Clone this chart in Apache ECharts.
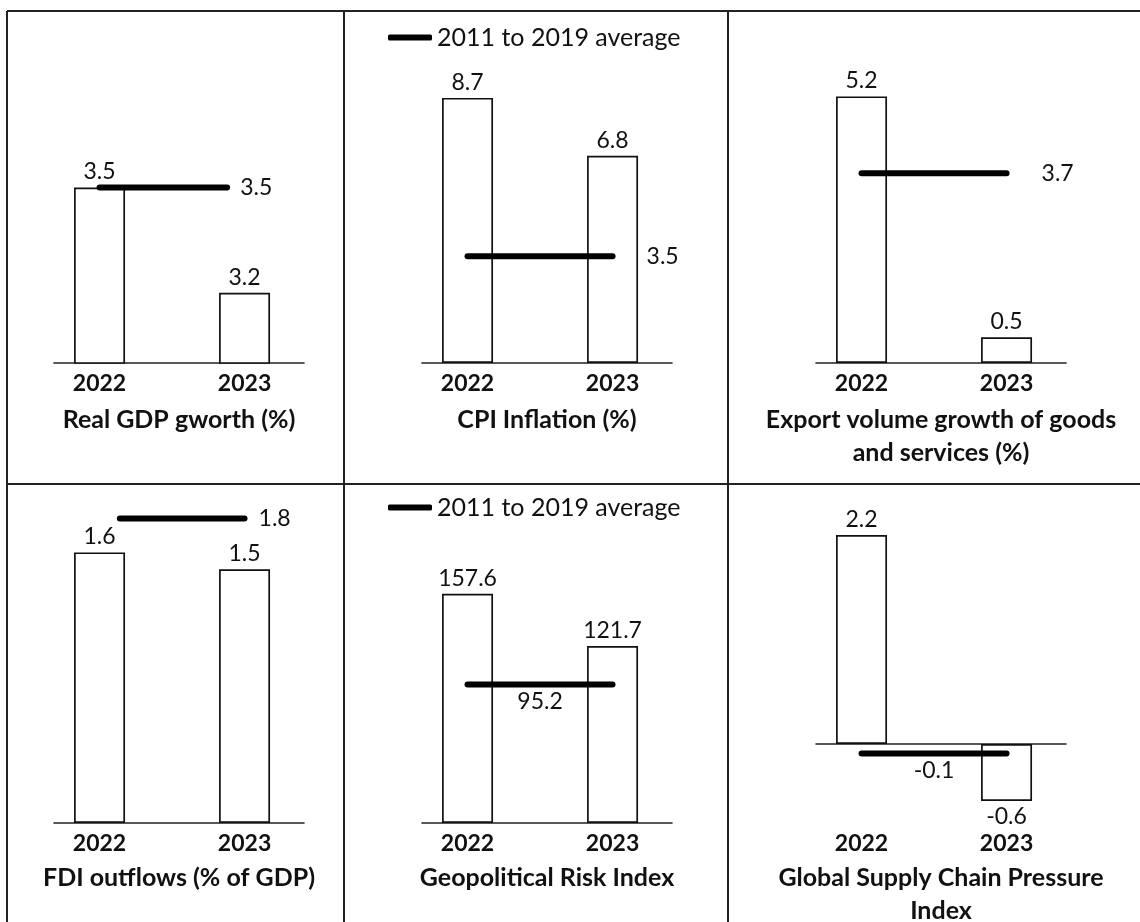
<!DOCTYPE html>
<html>
<head>
<meta charset="utf-8">
<script src="https://cdn.jsdelivr.net/npm/echarts@6/dist/echarts.min.js"></script>
<style>
  html, body { margin: 0; padding: 0; background: #fff; }
  #main { width: 1140px; height: 922px; }
</style>
</head>
<body>
<div id="main"></div>
<script>
// ---- data ----
var years = ['2022', '2023'];
var panelTitles = [
  'Real GDP gworth (%)',
  'CPI Inflation (%)',
  'Export volume growth of goods\nand services (%)',
  'FDI outflows (% of GDP)',
  'Geopolitical Risk Index',
  'Global Supply Chain Pressure\nIndex'
];
var gdpGrowth = [3.5, 3.2];
var cpiInflation = [8.7, 6.8];
var exportGrowth = [5.2, 0.5];
var fdiOutflows = [1.6, 1.5];
var geoRisk = [157.6, 121.7];
var supplyPressure = [2.2, -0.6];
var avg2011to2019 = [3.5, 3.5, 3.7, 1.8, 95.2, -0.1];
var avgName = '2011 to 2019 average';

// ---- layout ----
var panelValues = [gdpGrowth, cpiInflation, exportGrowth, fdiOutflows, geoRisk, supplyPressure];
var colLeft = [54, 422, 816];
var rowTop = [40, 500];
var plotW = 250, plotH = 323;
var xMin = -0.314, xMax = 1.41;
var yRange = [[3, 3.92], [0, 10.6], [0, 6.3], [0, 1.91], [0, 222], [-0.832, 2.568]];
var avgSpan = [[0, 0.88], [0, 1], [0, 1], [0.14, 1], [0, 1], [0, 1]];
var avgLabelPos = ['end', 'end', 'end', 'end', 'insideMiddleBottom', 'insideMiddleBottom'];
var avgLabelGap = [13, 34, 35, 14, 6, 6];
var legendPanels = [1, 4];
var legendTop = [25, 495];
var titleTop = [403, 861];

var font = 'Lato, "Open Sans", sans-serif';
var ink = '#111';

var grids = [], xAxes = [], yAxes = [], series = [], titles = [], legends = [];

panelValues.forEach(function (vals, i) {
  var col = i % 3, row = Math.floor(i / 3);
  grids.push({ left: colLeft[col], top: rowTop[row], width: plotW, height: plotH });

  // axis carrying the year labels (always at the bottom of the plot)
  xAxes.push({
    type: 'value', gridIndex: i, min: xMin, max: xMax, position: 'bottom',
    axisLine: { show: false, onZero: false },
    axisTick: { show: false },
    splitLine: { show: false },
    axisLabel: {
      customValues: [0, 1],
      formatter: function (v) { return years[Math.round(v)]; },
      margin: 9, fontSize: 23, fontWeight: 'bold', color: ink, fontFamily: font
    }
  });
  // axis carrying the baseline (sits on zero when zero is in range)
  xAxes.push({
    type: 'value', gridIndex: i, min: xMin, max: xMax, position: 'bottom',
    axisLine: { show: true, onZero: true, lineStyle: { color: '#222', width: 1.6 } },
    axisTick: { show: false },
    axisLabel: { show: false },
    splitLine: { show: false }
  });
  yAxes.push({
    type: 'value', gridIndex: i, min: yRange[i][0], max: yRange[i][1], show: false
  });

  series.push({
    type: 'bar',
    xAxisIndex: 2 * i, yAxisIndex: i,
    barWidth: 51,
    silent: true,
    itemStyle: { color: '#fff', borderColor: ink, borderWidth: 1.7 },
    label: {
      show: true, position: 'top', distance: 4,
      formatter: function (p) { return String(p.value[1]); },
      fontSize: 23, color: ink, fontFamily: font
    },
    data: vals.map(function (v, k) {
      var d = { value: [k, v] };
      if (v < 0) d.label = { position: 'bottom' };
      return d;
    })
  });

  var avg = avg2011to2019[i];
  series.push({
    type: 'line', name: avgName,
    xAxisIndex: 2 * i, yAxisIndex: i,
    symbol: 'none', silent: true, z: 3,
    lineStyle: { color: '#000', width: 6, cap: 'round' },
    itemStyle: { color: '#000' },
    data: [[avgSpan[i][0], avg], [avgSpan[i][1], avg]],
    markLine: {
      silent: true, symbol: 'none',
      lineStyle: { color: 'rgba(0,0,0,0)', width: 0 },
      label: {
        show: true, position: avgLabelPos[i], distance: avgLabelGap[i],
        formatter: String(avg), fontSize: 23, color: ink, fontFamily: font
      },
      data: [[{ coord: [avgSpan[i][0], avg] }, { coord: [avgSpan[i][1], avg] }]]
    }
  });

  titles.push({
    text: panelTitles[i],
    left: colLeft[col] + plotW / 2,
    top: titleTop[row],
    textAlign: 'center',
    padding: 0,
    textStyle: { fontFamily: font, fontSize: 25, fontWeight: 'bold', color: ink, lineHeight: 33 }
  });
});

legendPanels.forEach(function (i, n) {
  legends.push({
    data: [{ name: avgName, icon: 'roundRect' }],
    left: 388, top: legendTop[n],
    padding: 0,
    itemWidth: 44, itemHeight: 6,
    itemStyle: { color: '#000' },
    selectedMode: false,
    textStyle: { fontFamily: font, fontSize: 25, color: ink }
  });
});

// panel frame
var frameLines = [
  [7, 11, 1140, 11], [7, 484, 1140, 484],
  [7, 11, 7, 922], [344, 11, 344, 922], [728, 11, 728, 922]
];

var chart = echarts.init(document.getElementById('main'));
chart.setOption({
  backgroundColor: '#fff',
  animation: false,
  title: titles,
  legend: legends,
  grid: grids,
  xAxis: xAxes,
  yAxis: yAxes,
  series: series,
  graphic: frameLines.map(function (l) {
    return {
      type: 'line', silent: true,
      shape: { x1: l[0], y1: l[1], x2: l[2], y2: l[3] },
      style: { stroke: '#222', lineWidth: 2 }
    };
  })
});
</script>
</body>
</html>
